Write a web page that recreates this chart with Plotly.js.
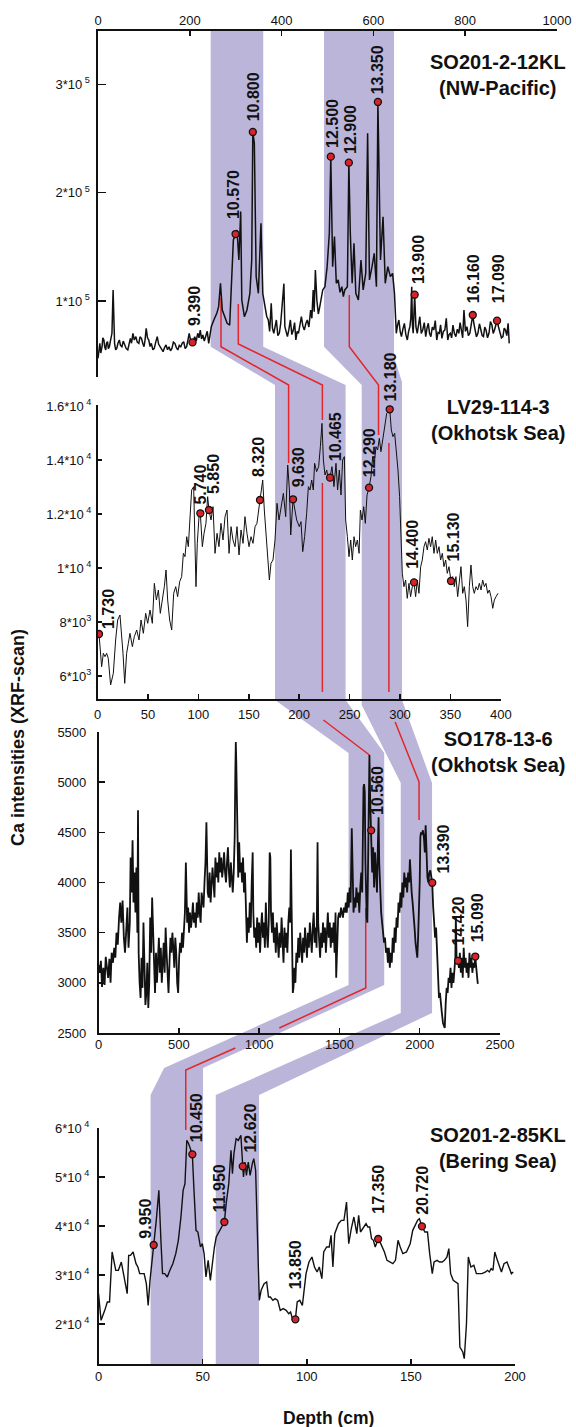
<!DOCTYPE html>
<html><head><meta charset="utf-8">
<script src="https://cdn.plot.ly/plotly-3.0.1.min.js"></script>
<style>html,body{margin:0;padding:0;background:#fff}#chart{width:576px;height:1427px}</style>
</head><body><div id="chart"></div>
<script>
// ---------------- DATA ----------------
// SO201-2-12KL (NW-Pacific)
const core1Depth = [0,2,4,6,8.8,10.5,12.8,14.5,16.8,18.5,20.8,22.5,24.8,27,30.4,32.9,34.5,36.1,38.5,40.9,43.5,46.5,49,52.1,55,58.5,61.5,64.9,67.5,70.5,73,76.1,79,82.5,85.5,88.9,91.5,94.6,97.5,100.2,102.5,105,107.8,110.6,113.5,116.2,119.5,122.6,125.8,129,132.2,135.4,138.6,141.8,145,148.2,151.5,154.7,157.9,161.1,164.3,167.5,170.7,173.9,177.1,180.3,183.5,186.7,189.9,193.1,196,198.7,202,205.9,208.3,210.7,214,217.2,220,222.8,225.6,228.4,231.6,234.8,238,241.2,244,
246.8,252.4,258.8,262.8,266.8,270.8,276.4,281.3,286.9,290.9,294.9,299.7,302.9,306.9,310.9,313.3,318.9,324.5,330.9,334.9,337.3,340.6,344.6,349.4,355,359,364.6,367.5,
371,374,377.4,380,383,385.8,388.6,391.8,395,398,401.5,405,407.1,410,412.7,416,419.1,422.3,425.5,428.3,431.1,433.9,436.7,440,443.1,446.3,449.5,452.7,455.9,459.5,463.2,466,468.8,471,473.6,476.8,480,483.2,486.4,489.6,
494.4,499.2,504,507.2,511.2,515.2,519.2,523.3,527.3,531.3,534.5,537.7,543.3,546.5,549.7,553.7,557.7,561.7,567.3,572.9,577.7,583.3,587.4,591.4,597,601.8,606.6,609.8,615.4,621,625.8,631.4,637,641.8,645.9,
649.9,652.7,655.5,658.3,661.1,664.3,667.5,670.7,673.9,676.7,679.5,681.5,683.5,685,686.7,689.9,692.7,695.5,698.3,701.1,704.3,707.5,710.8,714,716.8,719.6,722.4,725.2,728.4,731.6,734.8,738,740.8,743.6,746.4,749.2,752.4,755.6,758.8,762,764.8,767.6,770.5,773.3,776.5,779.7,782.9,786.1,788.9,791.7,794.5,797.3,800.5,803.7,806.9,810.1,813.3,816.5,818.9,821.3,824.5,827.7,831,834.2,837,839.8,842.6,845.4,848.6,851.8,855,858.2,861,863.8,866.6,869.4,872.6,875.8,879,882.2,885,887.8,890.6,893.5,895.9];
const core1Ca = [47100,58000,60900,52000,57800,66000,64000,58000,54800,61000,62500,56000,57800,63000,70200,110200,62000,60900,55000,56300,61000,64000,59000,57800,63000,59400,56000,54800,60000,65500,61000,70200,64000,67100,62000,60900,67000,65500,61000,57800,64000,74800,66000,64000,58000,60900,55000,56300,62000,67100,60000,57800,55000,53200,57000,59400,55000,57800,54000,56300,62000,60900,57000,54800,59000,57800,61000,62500,56000,57800,64000,70200,63000,61800,64000,67100,63000,70200,66000,73200,65000,68600,63000,67100,72000,60900,68000,
76300,82500,88600,94800,116300,91700,85500,79400,77800,113200,156300,161800,165500,137800,182500,100900,85500,91700,107100,137800,256000,245500,122500,107100,171700,107100,94800,86000,
82500,72000,97800,75000,70200,78000,82500,68000,70200,79000,94800,116000,76300,72000,67100,74000,82500,69000,73200,80000,64000,72000,70200,78000,85500,77000,73200,79000,82500,76000,91700,84000,110200,90000,128600,100900,88000,94800,102000,110200,
113200,131700,162500,233200,131700,159400,116300,119400,108000,113200,104000,110200,113200,227700,162500,116300,153200,107100,100900,137800,110200,125500,254800,119400,131700,144000,113200,283700,137800,177800,116300,131700,122500,125500,107100,
70200,78000,82500,72000,67100,74000,79400,69000,64000,72000,76300,84000,113200,78000,70200,105800,76000,70200,80000,85500,70000,73200,80000,67100,75000,79400,70000,67100,76000,73200,82000,64000,71000,70200,78000,65500,72000,73200,84000,64000,69000,70200,66000,77800,70000,67100,74000,70200,80000,73200,66000,91700,72000,76300,68000,70200,78000,87100,79000,73200,67000,70200,79000,73200,68000,67100,76000,73200,66000,70200,81000,77800,70000,73200,78000,81800,76000,70200,66000,67100,75000,73200,68000,79400,60900];
const core1TieDepth = [205.9,299.7,337.3,507.2,546.5,609.8,689.9,816.5,869.4];
const core1TieCa = [61800,161800,256000,233200,227700,283700,105800,87100,81800];
const core1TieAge = ["9.390","10.570","10.800","12.500","12.900","13.350","13.900","16.160","17.090"];

// LV29-114-3 (Okhotsk Sea)
const core2Depth = [1.4,4.0,5.7,7.3,9.0,10.6,12.9,15.6,17.9,19.9,22.2,23.9,25.2,26.9,28.8,30.5,32.1,34.5,36.4,38.8,41.1,43.1,45.4,47.7,49.7,52.0,54.3,56.3,58.3,60.3,62.2,64.2,66.2,67.9,69.5,71.5,73.5,75.5,77.5,79.4,81.4,83.4,85.1,86.7,88.4,90.0,91.7,93.3,95.3,96.6,97.6,98.9,100.6,101.9,103.9,105.6,107.5,109.2,110.5,112.5,114.5,116.5,118.5,120.4,122.4,124.4,126.4,128.4,130.4,132.4,134.3,136.3,138.3,140.3,142.3,144.3,146.2,148.2,150.2,152.2,154.2,156.2,158.1,161.1,163.8,165.4,167.1,168.7,170.4,172.0,174.0,176.0,178.0,180.0,182.0,184.3,186.6,188.6,190.3,191.6,193.9,197.5,200.1,201.8,203.5,205.4,207.4,209.1,210.7,212.4,214.0,215.3,217.3,219.3,221.0,222.6,224.0,225.6,227.3,228.9,230.6,232.5,234.5,236.5,238.1,239.8,241.5,243.1,244.8,246.1,247.8,249.4,251.1,252.7,254.4,256.0,257.7,259.4,260.7,262.3,264.0,265.6,267.3,269.3,271.2,272.9,274.5,276.2,277.8,279.5,281.1,282.8,284.8,286.8,288.4,289.8,291.4,293.0,294.7,296.3,298.0,299.6,301.0,302.3,303.9,305.6,307.2,308.9,310.5,312.2,313.9,315.5,317.2,318.8,320.5,322.1,323.8,325.4,327.1,328.7,330.4,332.0,333.7,335.4,337.0,338.7,340.3,342.0,343.6,345.3,346.9,348.6,350.6,352.2,353.9,355.5,357.2,358.9,360.5,362.2,363.8,365.5,367.1,368.8,370.4,372.1,373.7,375.4,377.1,378.7,380.4,382.0,383.7,385.3,387.0,388.6,390.3,392.0,393.6,395.3,397.2];
const core2Ca = [7556,6345,6840,6716,6840,6654,5667,6099,7333,8074,8259,7580,6840,5728,6840,7210,7580,7086,7457,7704,7333,8074,7580,8321,7951,8444,7951,9432,8815,9185,8321,8815,9309,9926,8815,8074,7704,9062,9309,8938,9494,9679,10543,10420,11160,10790,11901,12889,13012,10543,9309,10913,11901,12026,10790,11284,11654,12642,12148,11777,12271,10543,11284,10790,11654,11037,11901,12148,10543,11531,11037,10790,11531,10481,11407,10913,11901,11284,10790,11160,10913,11531,11654,12519,13259,12148,11160,10420,9556,10173,10296,11037,12395,11777,12271,12765,11901,13815,12889,11222,12545,11778,11531,11716,10605,11160,12024,13012,12889,13259,12889,13877,13568,13753,14494,15358,14000,13444,13630,13259,13346,13753,13012,13877,12889,13630,12703,14000,14124,11778,11160,10420,11037,10296,11160,10790,11037,10543,12148,11778,12271,11654,12703,12975,13383,14124,13877,14494,14370,14802,14309,14741,15235,15729,15790,15878,15111,14864,14988,14370,13630,12642,11160,9802,9309,9556,8877,9432,8938,9309,9470,8938,9556,9062,10049,10296,10790,10975,10667,11099,10790,11160,10543,11037,10543,10790,10296,10543,10049,10296,9802,10049,9519,9679,9309,9679,8938,9556,10049,9062,9309,8815,7828,9309,10111,9309,9062,9309,9185,9432,9185,9556,9309,9432,9062,9185,8938,8506,8815,8938,9062];
const core2TieDepth = [1.4,101.9,110.5,161.1,193.9,230.6,269.3,289.8,313.9,350.6];
const core2TieCa = [7556,12026,12148,12519,12545,13346,12975,15878,9470,9519];
const core2TieAge = ["1.730","5.740","5.850","8.320","9.630","10.465","12.290","13.180","14.400","15.130"];

// SO178-13-6 (Okhotsk Sea)
const core3Depth = [0,8,15,22,30,38,45,52,60,68,75,82,90,98,105,112,120,128,135,142,150,158,165,172,180,187,195,200,206,212,218,224,230,236,242,246,250,256,262,268,274,280,286,292,298,304,310,316,322,328,334,340,346,352,358,364,370,376,382,388,394,400,406,412,418,424,430,436,442,448,454,460,466,472,478,484,490,496,502,508,514,520,526,532,538,544,548,552,558,564,570,576,582,588,594,600,606,612,618,624,630,636,642,648,654,660,666,672,676,680,686,692,698,704,710,716,722,728,734,740,746,752,758,764,770,776,782,788,794,800,806,812,818,824,830,836,842,848,852,855,858,862,866,870,876,882,888,894,900,906,912,918,924,930,936,942,948,954,960,964,970,976,982,988,994,1000,1006,1012,1018,1024,1030,1036,1042,1048,1054,1060,1066,1070,1074,1080,1086,1092,1098,1104,1110,1116,1122,1128,1134,1140,1146,1152,1158,1164,1170,1176,1182,1188,1194,1198,1202,1206,1210,1214,1220,1226,1232,1238,1244,1250,1256,1262,1268,1274,1280,1286,1292,1298,1304,1310,1316,1322,1328,1334,1340,1346,1352,1358,1364,1368,1374,1380,1386,1392,1398,1404,1410,1416,1422,1428,1434,1440,1446,1452,1458,1464,1470,1476,1480,1486,1492,1498,1504,1510,1516,1522,1528,1534,1540,1546,1552,1558,1564,1570,1577,1582,1588,1594,1600,1606,1612,1618,1624,1630,1636,1642,1646,1650,1654,1658,1662,1666,1670,1674,1678,1682,1687,1692,1698,1704,1710,1716,1722,1728,1734,1740,1744,1748,1754,1760,1766,1772,1778,1784,1790,1796,1802,1808,1814,1820,1826,1832,1838,1844,1850,1856,1862,1868,1874,1880,1886,1892,1898,1904,1910,1916,1922,1928,1934,1939,1944,1950,1956,1962,1968,1974,1980,1985,1990,1995,2000,2004,2008,2014,2020,2026,2032,2037,2042,2048,2054,2060,2066,2072,2078,2084,2090,2096,2102,2108,2114,2120,2126,2132,2138,2145,2150,2156,2162,2168,2174,2180,2186,2192,2198,2204,2210,2216,2222,2225,2230,2239,2244,2250,2256,2262,2268,2274,2280,2286,2292,2298,2304,2310,2316,2322,2328,2334,2340,2346,2352,2358,2362];
const core3Ca = [3180,3100,3220,2960,3150,2980,3260,3180,3050,3240,3000,3300,3200,3350,3250,3500,3380,3650,3800,3600,3820,3450,3300,3500,3750,3350,3600,4250,3900,4420,3800,4100,3700,4150,3500,4720,3300,3000,2850,3250,2950,3600,3100,2780,2900,3200,2750,3000,3650,3300,3850,3400,3200,2900,3300,3000,3250,3450,3100,3350,3000,3250,3400,3100,3550,3300,3000,2900,3200,3450,3300,3500,3350,3150,3450,3300,3000,2900,3250,3400,3300,3500,3350,3500,3700,4200,3900,3600,3750,3500,3700,3550,3650,3800,3600,3700,3550,3800,3650,3900,3700,3600,3900,3800,3750,4000,4200,4600,4350,3900,3850,4100,3800,3950,4150,4000,3850,4250,4050,4200,4000,4300,4100,4250,4050,4150,4300,4100,4000,4200,4350,4100,3950,4200,4000,3900,4100,4450,5100,5400,5200,4600,4300,4050,4400,4100,4200,4000,4250,3900,4100,3800,3400,3650,3500,3800,3550,4000,4300,3700,3450,3550,3350,3650,3400,3600,3300,3550,3700,3450,3600,3350,3800,3500,3350,3600,4300,4250,3700,3500,3700,3400,3550,3300,3600,3450,3250,3500,3350,3650,3400,3200,3550,3350,3500,3300,3600,3750,3600,4330,3800,3200,2900,2950,3150,3000,3300,3200,3450,3250,3500,3350,3200,3450,3300,3550,3400,3250,3500,3350,3600,3450,3300,3550,3700,3400,3550,3350,4400,3600,3450,3250,3500,3350,3600,3400,3550,3300,3500,3700,3450,3600,3350,3550,3400,3600,3300,3700,3050,3500,3650,3700,3650,3750,3700,3650,3750,3700,3800,3700,3900,3750,3950,3800,4540,3900,3700,3850,3750,3950,3800,3900,3700,3950,4100,3900,4800,4950,4980,4900,4200,3750,3650,3600,4200,4900,5270,4800,4520,4100,4350,3950,4300,4100,3900,4400,4650,4200,3900,3700,3600,3500,3400,3450,3300,3350,3200,3350,3150,3300,3200,3450,3300,3550,3400,3650,3550,3800,3700,3900,3750,4000,3850,4100,3950,4050,3900,4100,4000,4230,4000,3900,3800,3700,3550,3400,3300,3250,3450,3650,4000,4450,4500,4480,4520,4450,4300,4570,4200,4050,4000,4100,4120,4050,3998,3750,3600,3450,3550,3300,3050,2850,2900,2750,2700,2600,2580,2550,2800,2950,2900,3050,3000,3150,2950,3100,3000,3150,3250,3650,3200,3219,3150,3300,3100,3250,3050,3350,3150,3250,3100,3200,3050,3300,3150,3250,3100,3200,3150,3262,3100,3050,2990];
const core3TieDepth = [1698,2078,2239,2346];
const core3TieCa = [4520,3998,3219,3262];
const core3TieAge = ["10.560","13.390","14.420","15.090"];

// SO201-2-85KL (Bering Sea)
const core4Depth = [0,1.24,3.0,4.24,5.3,6.54,8.3,9.54,10.96,12.37,13.78,14.49,15.37,16.61,18.02,18.91,19.79,20.67,21.91,22.97,23.85,24.74,25.62,26.5,27.74,28.98,30.04,30.75,31.81,33.04,34.28,35.69,37.11,38.34,39.58,40.64,41.52,42.41,43.29,45.06,45.77,46.83,47.71,48.95,49.83,50.71,51.6,52.66,53.72,54.78,55.66,56.54,57.78,58.66,60.43,61.31,62.55,63.61,64.32,65.03,66.09,67.15,68.38,69.27,69.62,70.33,71.03,71.92,72.8,73.86,74.57,75.45,76.33,77.22,78.1,79.52,80.75,81.64,82.52,83.76,84.82,86.05,87.29,88.7,90.12,91.35,92.24,93.12,94.53,95.42,96.65,97.89,99.66,101.07,102.49,103.72,104.96,106.02,107.26,108.14,109.55,110.79,111.67,112.56,113.44,115.21,116.62,117.86,119.1,120.16,121.39,122.63,124.04,124.93,125.81,127.22,128.46,129.34,130.23,131.11,132.0,132.88,134.29,135.53,137.3,138.53,139.95,141.36,142.6,143.83,144.89,146.13,147.9,149.66,150.9,152.32,153.2,154.08,155.32,156.73,157.97,159.03,160.27,161.15,162.56,163.8,165.04,166.1,167.33,168.22,169.1,170.34,171.75,172.64,173.52,174.93,175.64,176.7,177.58,178.82,180.23,181.47,182.71,184.12,185.89,186.77,187.65,188.54,189.42,190.3,191.54,192.6,193.49,194.72,196.14,197.38,198.26,199.15];
const core4Ca = [26190,20747,22788,24490,24490,34693,30951,30951,32652,29591,26190,34013,34013,34693,32312,31632,30272,30272,30272,28231,23810,28911,32993,36122,41156,47279,36395,30272,30272,29591,30951,32312,34353,37074,41836,47279,48639,57483,56803,54626,47959,39116,38776,35714,36395,34353,29591,32993,28911,32993,35714,37755,38776,39456,40816,44558,48639,55442,50680,54762,57823,57483,58503,52177,50000,53061,50340,53061,50340,52721,53741,51361,39796,24830,26871,28231,28571,25510,25510,24830,25170,24830,22789,23129,22789,22109,22449,21088,20952,24490,24830,23810,30272,32652,33673,31633,30612,31633,29252,34694,35714,35714,38095,31633,38435,40476,41156,41156,44898,36395,39456,41837,38435,42177,38776,39796,40476,39796,39796,37415,37075,35714,37346,36395,34694,32993,32653,32313,32993,37075,35714,34354,34694,36395,39116,40476,41156,41497,39932,38776,38776,34354,30272,32653,32993,32653,32653,32993,33673,35374,30272,28912,28571,28231,15306,14286,12925,20068,33673,31633,31973,30272,30272,30272,30612,30952,30612,31293,30952,34694,32993,31633,30612,32313,32653,31293,30272,30612];
const core4TieDepth = [26.5,45.06,60.43,69.27,94.53,134.29,155.32];
const core4TieCa = [36122,54626,40816,52177,20952,37346,39932];
const core4TieAge = ["9.950","10.450","11.950","12.620","13.850","17.350","20.720"];

const coreNames = ["SO201-2-12KL<br>(NW-Pacific)","LV29-114-3<br>(Okhotsk Sea)","SO178-13-6<br>(Okhotsk Sea)","SO201-2-85KL<br>(Bering Sea)"];
const yTickVals1 = [100000,200000,300000];
const yTickText1 = ["1*10<sup> 5</sup>","2*10<sup> 5</sup>","3*10<sup> 5</sup>"];
const yTickVals2 = [6000,8000,10000,12000,14000,16000];
const yTickText2 = ["6*10<sup>3</sup>","8*10<sup>3</sup>","1*10<sup> 4</sup>","1.2*10<sup> 4</sup>","1.4*10<sup> 4</sup>","1.6*10<sup> 4</sup>"];
const yTickVals4 = [20000,30000,40000,50000,60000];
const yTickText4 = ["2*10<sup> 4</sup>","3*10<sup> 4</sup>","4*10<sup> 4</sup>","5*10<sup> 4</sup>","6*10<sup> 4</sup>"];

// correlation bands: depth ranges in each core (left / right edge)
const bandADepthL = [245.5,176,1557,25];
const bandADepthR = [360,246,1779,50.2];
const bandBDepthL = [492.4,262,1882,56.3];
const bandBDepthR = [645,302,2077,77.1];

// ---------------- LAYOUT GEOMETRY (pixels) ----------------
const W = 576, H = 1427;
const FONT = '"Liberation Sans", Arial, Helvetica, sans-serif';
const xDomPx = {1:[98,557],2:[97.6,500.8],3:[98.5,500],4:[98.5,515]};
const yDomPx = {1:[31,377],2:[405,699],3:[732,1033],4:[1128,1364]};
const xRange = {1:[0,1000],2:[0,400],3:[0,2500],4:[0,200]};
const yRange = {1:[29857,349192],2:[5148,16037],3:[2500,5500],4:[11837,60000]};

function pxX(core,d){const a=xDomPx[core],r=xRange[core];return a[0]+(d-r[0])/(r[1]-r[0])*(a[1]-a[0]);}
const PX = px => px/W, PY = py => 1-py/H;

function bandPath(dL,dR,ys){
  const left = ys.left.map(([c,y,d]) => [pxX(c, d!==undefined?d:dL[c-1]), y]);
  const right = ys.right.map(([c,y,d]) => [pxX(c, d!==undefined?d:dR[c-1]), y]);
  const pts = left.concat(right.reverse());
  return 'M' + pts.map(p => PX(p[0]).toFixed(5)+','+PY(p[1]).toFixed(5)).join(' L') + ' Z';
}
const bandA = bandPath(bandADepthL,bandADepthR,{
  left:[[1,31],[1,346.7],[2,385],[2,700],[3,753],[3,985],[4,1068,31.5],[4,1095],[4,1364]],
  right:[[1,31],[1,346.7],[2,385],[2,700],[3,753],[3,985],[4,1068],[4,1364]]
});
const bandB = bandPath(bandBDepthL,bandBDepthR,{
  left:[[1,31],[1,346.7],[2,385],[2,705],[3,783],[3,1013],[4,1095],[4,1364]],
  right:[[1,31],[1,357],[2,382],[2,700],[3,783],[3,1013],[4,1095],[4,1364]]
});

// red tie lines: [core, depth, ypx]
const redLines = [
  [[1,268,298],[1,268,346.7],[2,189.5,385],[2,189.5,463]],
  [[1,305.7,304],[1,305.7,344],[2,223,385],[2,223,420]],
  [[2,223,483],[2,223,692]],
  [[2,224,720],[3,1687,755]],
  [[3,1664,908],[3,1664,988],[3,1126,1028]],
  [[4,65.7,1048],[4,41.9,1070],[4,41.9,1130]],
  [[1,547.5,295],[1,547.5,346.7],[2,278.7,385],[2,278.7,435]],
  [[2,289,443],[2,289,692]],
  [[2,295.2,722],[3,1996,782],[3,1996,820]]
];

const BAND_COLOR = '#bbb5d9';
const RED = '#e3262b';
const shapes = [
  {type:'path',xref:'paper',yref:'paper',path:bandA,fillcolor:BAND_COLOR,line:{width:0},layer:'below'},
  {type:'path',xref:'paper',yref:'paper',path:bandB,fillcolor:BAND_COLOR,line:{width:0},layer:'below'}
];
redLines.forEach(seg=>{
  const path='M'+seg.map(([c,d,y])=>PX(pxX(c,d)).toFixed(5)+','+PY(y).toFixed(5)).join(' L');
  shapes.push({type:'path',xref:'paper',yref:'paper',path:path,line:{color:RED,width:1.5},layer:'below'});
});

// ---------------- TRACES ----------------
const cores = [
  {d:core1Depth,v:core1Ca,td:core1TieDepth,tv:core1TieCa,ta:core1TieAge,w:1.5},
  {d:core2Depth,v:core2Ca,td:core2TieDepth,tv:core2TieCa,ta:core2TieAge,w:1.0},
  {d:core3Depth,v:core3Ca,td:core3TieDepth,tv:core3TieCa,ta:core3TieAge,w:1.8},
  {d:core4Depth,v:core4Ca,td:core4TieDepth,tv:core4TieCa,ta:core4TieAge,w:1.4}
];
// label offsets (px): [dx, gap above marker]
const labelOffsets = [
  [[2,15],[-2,14],[1,10],[1,8],[1,8],[0,7],[4,10],[1,11],[1,16]],
  [[10,4],[0,8],[5,15],[-1,22],[5,11],[5,15],[0,9],[1,7],[-1,12],[2,18]],
  [[7,14],[11,8],[0,14],[2,13]],
  [[-9,5],[4,11],[-5,9],[8,13],[0,29],[0,24],[1,11]]
];
const traces = [];
const annotations = [];
cores.forEach((c,i)=>{
  const xa = i===0?'x':'x'+(i+1), ya = i===0?'y':'y'+(i+1);
  traces.push({x:c.d,y:c.v,xaxis:xa,yaxis:ya,type:'scatter',mode:'lines',line:{color:'#111',width:c.w},hoverinfo:'skip'});
  traces.push({x:c.td,y:c.tv,xaxis:xa,yaxis:ya,type:'scatter',mode:'markers',
    marker:{size:7,color:'#d8232a',line:{color:'#111',width:1.3}},hoverinfo:'skip'});
  c.ta.forEach((t,k)=>{
    const off = labelOffsets[i][k];
    annotations.push({xref:xa,yref:ya,x:c.td[k],y:c.tv[k],text:'<b>'+t+'</b>',showarrow:false,
      textangle:-90,xanchor:'center',yanchor:'bottom',xshift:off[0],yshift:off[1],
      font:{family:FONT,size:16,color:'#111'},borderpad:0});
  });
});

// titles
const titleYpx = [74.5,420.5,752,1147.5];
coreNames.forEach((n,i)=>{
  annotations.push({xref:'paper',yref:'paper',x:PX(497.5),y:PY(titleYpx[i]),text:'<b>'+n+'</b>',showarrow:false,
    xanchor:'center',yanchor:'middle',align:'center',font:{family:FONT,size:20,color:'#111'}});
});
annotations.push({xref:'paper',yref:'paper',x:PX(18),y:PY(738),text:'<b>Ca intensities (XRF-scan)</b>',showarrow:false,
  textangle:-90,xanchor:'center',yanchor:'middle',font:{family:FONT,size:18,color:'#111'}});
annotations.push({xref:'paper',yref:'paper',x:PX(328),y:PY(1418),text:'<b>Depth (cm)</b>',showarrow:false,
  xanchor:'center',yanchor:'middle',font:{family:FONT,size:17.5,color:'#111'}});

// ---------------- AXES ----------------
const axBase = {showgrid:false,zeroline:false,showline:true,linecolor:'#111',linewidth:1.6,
  ticks:'inside',tickcolor:'#111',tickwidth:1.5,ticklen:5,tickfont:{family:FONT,size:13,color:'#111'},fixedrange:true};
function xd(c){return [xDomPx[c][0]/W,xDomPx[c][1]/W];}
function yd(c){return [1-yDomPx[c][1]/H,1-yDomPx[c][0]/H];}
const layout = {
  width:W,height:H,margin:{l:0,r:0,t:0,b:0},paper_bgcolor:'#fff',plot_bgcolor:'rgba(0,0,0,0)',showlegend:false,
  font:{family:FONT},
  xaxis:Object.assign({},axBase,{domain:xd(1),range:xRange[1],side:'top',anchor:'y',dtick:200,ticklabelstandoff:-1}),
  yaxis:Object.assign({},axBase,{domain:yd(1),range:yRange[1],anchor:'x',tickvals:yTickVals1,ticktext:yTickText1,ticklen:8,ticklabelstandoff:4}),
  xaxis2:Object.assign({},axBase,{domain:xd(2),range:xRange[2],anchor:'y2',dtick:50,ticklabelstandoff:3}),
  yaxis2:Object.assign({},axBase,{domain:yd(2),range:yRange[2],anchor:'x2',tickvals:yTickVals2,ticktext:yTickText2,ticklen:4,ticklabelstandoff:2}),
  xaxis3:Object.assign({},axBase,{domain:xd(3),range:xRange[3],anchor:'y3',dtick:500,ticklabelstandoff:-1}),
  yaxis3:Object.assign({},axBase,{domain:yd(3),range:yRange[3],anchor:'x3',dtick:500,ticklen:6,ticklabelstandoff:8}),
  xaxis4:Object.assign({},axBase,{domain:xd(4),range:xRange[4],anchor:'y4',dtick:50,ticklabelstandoff:0}),
  yaxis4:Object.assign({},axBase,{domain:yd(4),range:yRange[4],anchor:'x4',tickvals:yTickVals4,ticktext:yTickText4,ticklen:6,ticklabelstandoff:5}),
  shapes:shapes,annotations:annotations
};
Plotly.newPlot('chart',traces,layout,{displayModeBar:false,staticPlot:true});
</script></body></html>
